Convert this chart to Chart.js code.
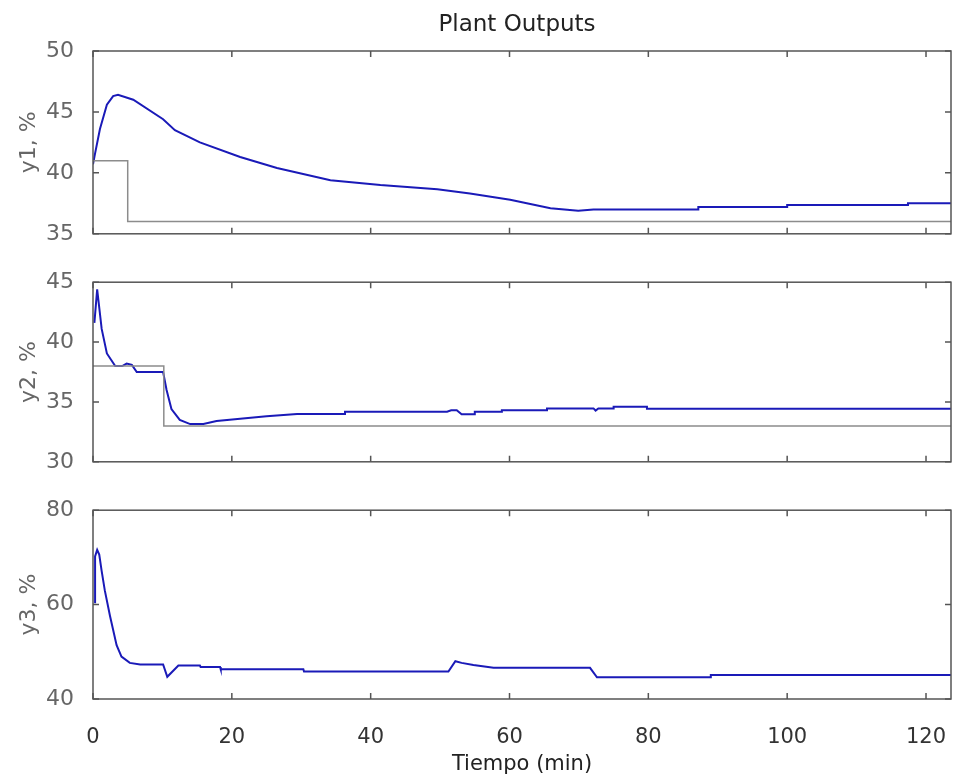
<!DOCTYPE html>
<html>
<head>
<meta charset="utf-8">
<script src="https://cdn.jsdelivr.net/npm/chart.js@4.4.1/dist/chart.umd.min.js"></script>
<style>
  body { margin: 0; background: #fff; }
  #wrap { position: relative; width: 966px; height: 780px; }
  canvas { position: absolute; left: 0; }
</style>
</head>
<body>
<div id="wrap">
  <canvas id="c1" width="966" height="258" style="top:0"></canvas>
  <canvas id="c2" width="966" height="228" style="top:258px"></canvas>
  <canvas id="c3" width="966" height="294" style="top:486px"></canvas>
</div>
<script>
// time axis
const xMax = 123.6;
const xTickStep = 20;

// y1 output and its setpoint
const y1Time = [0, 0.3, 1.0, 2.0, 2.9, 3.6, 5.8, 10.1, 11.8, 15.4, 21.2, 26.5, 34.2, 41.4, 49.6, 54.3, 60.1, 65.9, 69.9, 72.1, 87.2, 87.2, 100.0, 100.0, 117.4, 117.4, 123.6];
const y1Vals = [40.7, 41.6, 43.6, 45.6, 46.3, 46.4, 46.0, 44.4, 43.5, 42.5, 41.3, 40.4, 39.4, 39.0, 38.65, 38.3, 37.8, 37.1, 36.9, 37.0, 37.0, 37.2, 37.2, 37.36, 37.36, 37.5, 37.5];
const sp1Time = [0, 5.0, 5.0, 123.6];
const sp1Vals = [41, 41, 36, 36];

// y2 output and its setpoint
const y2Time = [0.2, 0.6, 1.25, 2.0, 3.2, 4.2, 4.85, 5.6, 6.3, 10.1, 10.6, 11.3, 12.5, 14.0, 15.9, 17.8, 21.2, 25.0, 29.4, 36.3, 36.3, 51.0, 51.6, 52.4, 53.1, 55.0, 55.0, 58.9, 58.9, 65.4, 65.4, 72.1, 72.4, 72.8, 75.0, 75.0, 79.8, 79.8, 123.6];
const y2Vals = [41.6, 44.4, 41.1, 39.05, 38.0, 38.0, 38.2, 38.1, 37.5, 37.5, 36.0, 34.4, 33.5, 33.15, 33.15, 33.4, 33.6, 33.8, 34.0, 34.0, 34.18, 34.18, 34.3, 34.3, 33.97, 33.97, 34.18, 34.18, 34.3, 34.3, 34.46, 34.46, 34.28, 34.46, 34.46, 34.6, 34.6, 34.44, 34.44];
const sp2Time = [0, 10.2, 10.2, 123.6];
const sp2Vals = [38, 38, 33, 33];

// y3 output
const y3Time = [0.3, 0.3, 0.6, 0.9, 1.25, 1.7, 2.45, 3.4, 4.1, 5.3, 6.8, 10.1, 10.7, 12.3, 15.4, 15.5, 18.3, 18.4, 30.3, 30.4, 51.2, 52.2, 53.1, 54.8, 57.7, 71.6, 72.6, 88.9, 89.0, 123.6];
const y3Vals = [60.3, 70.2, 71.6, 70.6, 67.1, 63.0, 57.6, 51.4, 49.0, 47.65, 47.3, 47.3, 44.7, 47.1, 47.1, 46.8, 46.8, 46.3, 46.3, 45.8, 45.8, 48.0, 47.65, 47.2, 46.6, 46.6, 44.6, 44.6, 45.1, 45.1];

const font = 'DejaVu Sans';
const axisColor = '#555';
const blue = '#1a1ab8';
const grey = '#8c8c8c';

function pts(xs, ys) {
  return xs.map((x, i) => ({ x: x, y: ys[i] }));
}

// MATLAB style box with inward ticks on all four sides
const boxTicks = {
  id: 'boxTicks',
  afterDatasetsDraw(chart) {
    const { ctx, chartArea: a, scales: { x, y } } = chart;
    const len = 6;
    ctx.save();
    ctx.strokeStyle = axisColor;
    ctx.lineWidth = 1.5;
    ctx.beginPath();
    x.ticks.forEach(t => {
      const px = x.getPixelForValue(t.value);
      ctx.moveTo(px, a.bottom); ctx.lineTo(px, a.bottom - len);
      ctx.moveTo(px, a.top); ctx.lineTo(px, a.top + len);
    });
    y.ticks.forEach(t => {
      const py = y.getPixelForValue(t.value);
      ctx.moveTo(a.left, py); ctx.lineTo(a.left + len, py);
      ctx.moveTo(a.right, py); ctx.lineTo(a.right - len, py);
    });
    ctx.stroke();
    ctx.strokeRect(a.left, a.top, a.right - a.left, a.bottom - a.top);
    ctx.restore();
  }
};

const plotTitle = {
  id: 'plotTitle',
  afterDraw(chart) {
    const ctx = chart.ctx;
    ctx.save();
    ctx.fillStyle = '#222';
    ctx.font = '23px "' + font + '"';
    ctx.textAlign = 'center';
    ctx.textBaseline = 'middle';
    ctx.fillText('Plant Outputs', 517, 25);
    ctx.restore();
  }
};

function makePanel(id, datasets, yMin, yMax, yStep, yLabel, padTop, xHeight, showX, extra) {
  new Chart(document.getElementById(id), {
    type: 'line',
    data: { datasets: datasets },
    options: {
      responsive: false,
      animation: false,
      layout: { padding: { left: 0, right: 15, top: padTop, bottom: 0 } },
      elements: { point: { radius: 0 }, line: { tension: 0 } },
      plugins: { legend: { display: false }, tooltip: { enabled: false } },
      scales: {
        x: {
          type: 'linear',
          min: 0,
          max: xMax,
          grid: { display: false },
          border: { display: false },
          ticks: {
            display: showX,
            stepSize: xTickStep,
            includeBounds: false,
            padding: 18,
            color: '#333',
            font: { family: font, size: 21 }
          },
          title: {
            display: showX,
            text: 'Tiempo (min)',
            color: '#222',
            font: { family: font, size: 21 },
            padding: { top: 0, bottom: 3 }
          },
          afterFit(scale) {
            scale.height = xHeight;
            scale.paddingLeft = 0;
            scale.paddingRight = 0;
          }
        },
        y: {
          min: yMin,
          max: yMax,
          grid: { display: false },
          border: { display: false },
          ticks: {
            stepSize: yStep,
            padding: 11,
            color: '#666',
            font: { family: font, size: 22 }
          },
          title: {
            display: true,
            text: yLabel,
            color: '#666',
            font: { family: font, size: 22 },
            padding: { top: 16 }
          },
          afterFit(scale) { scale.width = 93; }
        }
      }
    },
    plugins: [boxTicks].concat(extra || [])
  });
}

function blueLine(xs, ys) {
  return { data: pts(xs, ys), borderColor: blue, borderWidth: 2 };
}
function greyLine(xs, ys) {
  return { data: pts(xs, ys), borderColor: grey, borderWidth: 1.5 };
}

makePanel('c1', [greyLine(sp1Time, sp1Vals), blueLine(y1Time, y1Vals)], 35, 50, 5, 'y1, %', 51, 14, false, [plotTitle]);
makePanel('c2', [greyLine(sp2Time, sp2Vals), blueLine(y2Time, y2Vals)], 30, 45, 5, 'y2, %', 18, 15, false);
makePanel('c3', [blueLine(y3Time, y3Vals)], 40, 80, 20, 'y3, %', 18, 81, true);
</script>
</body>
</html>
